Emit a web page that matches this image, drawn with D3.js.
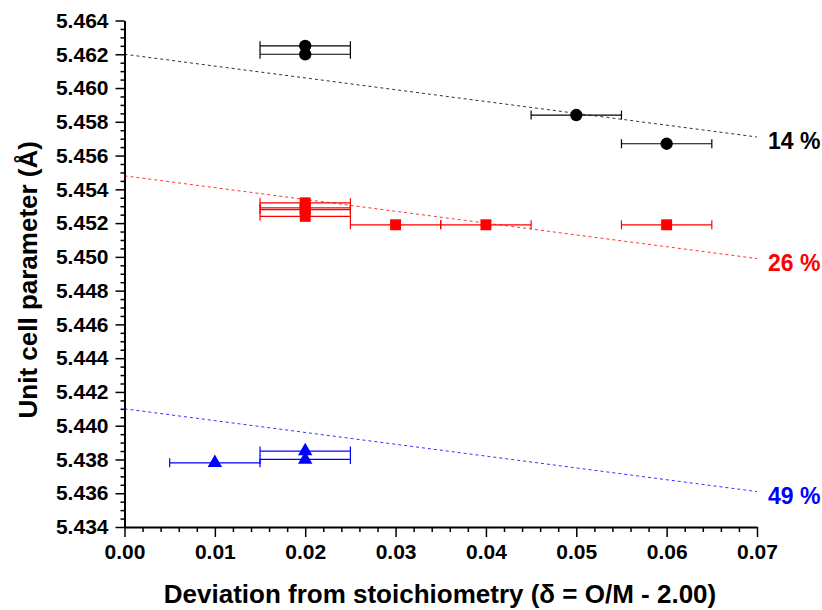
<!DOCTYPE html>
<html>
<head>
<meta charset="utf-8">
<script src="https://cdn.jsdelivr.net/npm/d3@7"></script>
<style>
  body { margin: 0; background: #fff; }
  text { font-family: "Liberation Sans", Arial, sans-serif; font-weight: bold; }
</style>
</head>
<body>
<div id="chart"></div>
<script>
// Series data: deviation (x), unit cell parameter (y), x error
const blackX = [0.02, 0.02, 0.05, 0.06];
const blackY = [5.4625, 5.4620, 5.4584, 5.4567];
const redX = [0.02, 0.02, 0.02, 0.02, 0.03, 0.04, 0.06];
const redY = [5.4532, 5.4528, 5.4529, 5.4524, 5.4519, 5.4519, 5.4519];
const blueX = [0.01, 0.02, 0.02];
const blueY = [5.4378, 5.4385, 5.4380];
const xErr = 0.005;

// Fitted lines (intercept at 0, value at 0.07)
const blackFit = [[0, 5.4620], [0.07, 5.4571]];
const redFit = [[0, 5.4548], [0.07, 5.4499]];
const blueFit = [[0, 5.4410], [0.07, 5.4361]];

const seriesLabels = ['14 %', '26 %', '49 %'];
const xTicks = [0, 0.01, 0.02, 0.03, 0.04, 0.05, 0.06, 0.07];
const yTicks = [5.434, 5.436, 5.438, 5.440, 5.442, 5.444, 5.446, 5.448,
                5.450, 5.452, 5.454, 5.456, 5.458, 5.460, 5.462, 5.464];

const width = 822, height = 610;
const margin = { top: 20.5, right: 65, bottom: 83, left: 124.5 };

const svg = d3.select('#chart')
    .append('svg')
    .attr('width', width)
    .attr('height', height);

const x = d3.scaleLinear()
    .domain([0, 0.07])
    .range([margin.left, width - margin.right]);

const y = d3.scaleLinear()
    .domain([5.434, 5.464])
    .range([height - margin.bottom, margin.top]);

// Minor ticks
const xMinor = d3.range(0, 0.0701, 0.002).filter(v => Math.abs(v * 100 - Math.round(v * 100)) > 1e-6);
const yMinor = d3.range(5.434, 5.4641, 0.0005).filter(v => Math.abs(v * 500 - Math.round(v * 500)) > 1e-6);

svg.append('g')
    .attr('transform', `translate(0,${height - margin.bottom})`)
    .call(d3.axisBottom(x).tickValues(xMinor).tickSize(5).tickFormat(''))
    .call(g => g.select('.domain').remove())
    .selectAll('line').attr('stroke-width', 1.5);

svg.append('g')
    .attr('transform', `translate(${margin.left},0)`)
    .call(d3.axisLeft(y).tickValues(yMinor).tickSize(4).tickFormat(''))
    .call(g => g.select('.domain').remove())
    .selectAll('line').attr('stroke-width', 1.5);

// X axis
const xAxis = svg.append('g')
    .attr('transform', `translate(0,${height - margin.bottom})`)
    .call(d3.axisBottom(x).tickValues(xTicks).tickSize(10).tickSizeOuter(0).tickPadding(7)
        .tickFormat(d3.format('.2f')));
xAxis.select('.domain').attr('stroke-width', 2);
xAxis.selectAll('line').attr('stroke-width', 1.5);
xAxis.selectAll('text').style('font-size', '21px').attr('fill', '#000');

// Y axis
const yAxis = svg.append('g')
    .attr('transform', `translate(${margin.left},0)`)
    .call(d3.axisLeft(y).tickValues(yTicks).tickSize(9).tickSizeOuter(0).tickPadding(7)
        .tickFormat(d3.format('.3f')));
yAxis.select('.domain').attr('stroke-width', 2);
yAxis.selectAll('line').attr('stroke-width', 1.5);
yAxis.selectAll('text').style('font-size', '21px').attr('fill', '#000');

// Axis titles
svg.append('text')
    .attr('x', 440)
    .attr('y', 603)
    .attr('text-anchor', 'middle')
    .style('font-size', '26px')
    .text('Deviation from stoichiometry (\u03b4 = O/M - 2.00)');

svg.append('text')
    .attr('transform', `translate(37,${(margin.top + height - margin.bottom) / 2 + 6}) rotate(-90)`)
    .attr('text-anchor', 'middle')
    .style('font-size', '26px')
    .text('Unit cell parameter (\u00c5)');

// Fit lines
const line = d3.line().x(d => x(d[0])).y(d => y(d[1]));
const fits = [
    { data: blackFit, color: '#000' },
    { data: redFit, color: '#ff0000' },
    { data: blueFit, color: '#0000ff' }
];
svg.selectAll('.fit')
    .data(fits)
    .enter()
    .append('path')
    .attr('class', 'fit')
    .attr('d', d => line(d.data))
    .attr('fill', 'none')
    .attr('stroke', d => d.color)
    .attr('stroke-width', 1)
    .attr('stroke-dasharray', '3,3')
    .attr('opacity', 0.8);

// Series labels at line ends
svg.selectAll('.slabel')
    .data(fits)
    .enter()
    .append('text')
    .attr('class', 'slabel')
    .attr('x', d => x(d.data[1][0]) + 11)
    .attr('y', d => y(d.data[1][1]) + 12)
    .style('font-size', '23px')
    .attr('fill', d => d.color)
    .text((d, i) => seriesLabels[i]);

// Error bars and markers
function drawSeries(xs, ys, color, shape) {
    const pts = xs.map((v, i) => ({ x: v, y: ys[i] }));
    const g = svg.append('g');
    const eb = g.selectAll('.eb').data(pts).enter().append('g');
    eb.append('line')
        .attr('x1', d => x(d.x - xErr)).attr('x2', d => x(d.x + xErr))
        .attr('y1', d => y(d.y)).attr('y2', d => y(d.y))
        .attr('stroke', color).attr('stroke-width', 1.2);
    [-1, 1].forEach(s => {
        eb.append('line')
            .attr('x1', d => x(d.x + s * xErr)).attr('x2', d => x(d.x + s * xErr))
            .attr('y1', d => y(d.y) - 4.5).attr('y2', d => y(d.y) + 4.5)
            .attr('stroke', color).attr('stroke-width', 1.2);
    });
    g.selectAll('.mk').data(pts).enter().append('path')
        .attr('transform', d => `translate(${x(d.x)},${y(d.y)})`)
        .attr('d', d3.symbol().type(shape).size(shape === d3.symbolTriangle ? 90 : 120))
        .attr('fill', color);
}

drawSeries(blackX, blackY, '#000', d3.symbolCircle);
drawSeries(redX, redY, '#ff0000', d3.symbolSquare);
drawSeries(blueX, blueY, '#0000ff', d3.symbolTriangle);
</script>
</body>
</html>
